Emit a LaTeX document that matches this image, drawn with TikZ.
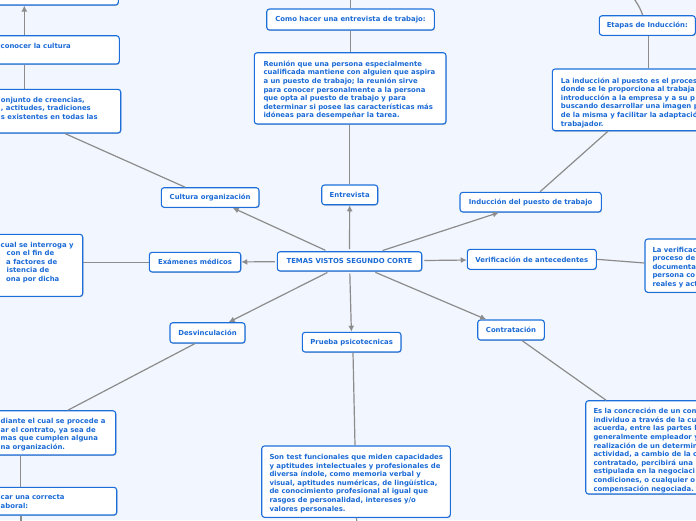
\documentclass[tikz,border=0pt]{standalone}
\usepackage{fontspec}
\setmainfont{DejaVu Sans}
\usetikzlibrary{arrows.meta,shadows,fit}
\definecolor{bg}{HTML}{F2F6FE}
\definecolor{bblue}{HTML}{1C6FDB}
\definecolor{tblue}{HTML}{1A6AD6}
\definecolor{lgray}{HTML}{8C8C8C}
\tikzset{
 box/.style={draw=bblue, line width=1.1pt, fill=white, rounded corners=2.8pt, inner sep=0pt,
   font=\fontsize{6.9}{8.6}\selectfont\bfseries, text=tblue,
   drop shadow={shadow xshift=0.6pt, shadow yshift=-0.9pt, opacity=0.22, fill=black}},
 sbox/.style 2 args={box, minimum width=#1, minimum height=#2},
 txt/.style={inner sep=0pt, anchor=north west, align=left, font=\fontsize{6.9}{8.6}\selectfont\bfseries, text=tblue},
 link/.style={draw=lgray, line width=1.2pt},
 arr/.style={link, -{Latex[length=6pt,width=6pt]}, shorten <=2pt},
}
\begin{document}
\begin{tikzpicture}[x=1pt,y=-1pt]
\useasboundingbox (0,0) rectangle (696,520);
\fill[bg] (0,0) rectangle (696,520);
\begin{scope}
\clip (0,0) rectangle (696,520);
% single-line boxes
\node[sbox={144.4pt}{19.3pt}] (center) at (349.5,261.35) {TEMAS VISTOS SEGUNDO CORTE};
\node[sbox={97.7pt}{19.6pt}] (Cultura) at (210.15,197.5) {Cultura organización};
\node[sbox={56pt}{19.7pt}] (Entrevista) at (349.7,194.85) {Entrevista};
\node[sbox={141.3pt}{19.7pt}] (Induccion) at (530.65,202.15) {Inducción del puesto de trabajo};
\node[sbox={91.4pt}{19.7pt}] (Examenes) at (195,262.15) {Exámenes médicos};
\node[sbox={129pt}{20pt}] (Verificacion) at (531.8,259.3) {Verificación de antecedentes};
\node[sbox={75pt}{20.3pt}] (Desvinc) at (207.5,332.85) {Desvinculación};
\node[sbox={98.7pt}{19.7pt}] (Prueba) at (351.65,342.15) {Prueba psicotecnicas};
\node[sbox={66.6pt}{20pt}] (Contratacion) at (511,330) {Contratación};
\node[sbox={167.6pt}{21pt}] (Como) at (350.5,19.5) {Como hacer una entrevista de trabajo:};
\node[sbox={96pt}{19.6pt}] (Etapas) at (647.3,25.5) {Etapas de Inducción:};

% multi-line boxes
\node[box, fit={(254.3,52.7) (446,124)}] (Reunion) {};
\node[txt] (ReunionT) at (263.3,60.6) {Reunión que una persona especialmente\\cualificada mantiene con alguien que aspira\\a un puesto de trabajo; la reunión sirve\\para conocer personalmente a la persona\\que opta al puesto de trabajo y para\\determinar si posee las características más\\idóneas para desempeñar la tarea.};

\node[box, fit={(552.3,69) (730,130.7)}] (LaInd) {};
\node[txt] (LaIndT) at (560.7,77.3) {La inducción al puesto es el proces\\donde se le proporciona al trabaja\\introducción a la empresa y a su p\\buscando desarrollar una imagen p\\de la misma y facilitar la adaptació\\trabajador.};

\node[box, fit={(645,239) (730,292.3)}] (Verif) {};
\node[txt] (VerifT) at (652.3,246.6) {La verificac\\proceso de\\documenta\\persona co\\reales y act};

\node[box, fit={(585.7,400.7) (730,494)}] (Contr) {};
\node[txt] (ContrT) at (593.3,408) {Es la concreción de un con\\individuo a través de la cu\\acuerda, entre las partes l\\generalmente empleador y\\realización de un determin\\actividad, a cambio de la c\\contratado, percibirá una\\estipulada en la negociaci\\condiciones, o cualquier o\\compensación negociada.};

\node[box, fit={(261.7,446) (450.3,517.3)}] (PruebaB) {};
\node[txt] (PruebaT) at (269.3,454) {Son test funcionales que miden capacidades\\y aptitudes intelectuales y profesionales de\\diversa índole, como memoria verbal y\\visual, aptitudes numéricas, de lingüística,\\de conocimiento profesional al igual que\\rasgos de personalidad, intereses y/o\\valores personales.};

\node[box, fit={(-30,-30) (118.3,5)}] (TopL) {};
\node[box, fit={(-30,35.7) (119.3,64)}] (Conocer) {};
\node[txt] (ConocerT) at (0.5,43.3) {conocer la cultura};
\node[box, fit={(-30,89.3) (120.7,133)}] (Conjunto) {};
\node[txt] (ConjuntoT) at (0.7,96.6) {onjunto de creencias,\\, actitudes, tradiciones\\s existentes en todas las};

\node[box, fit={(-30,234.3) (82.7,296.3)}] (Cual) {};
\node[txt] (CualT) at (0.5,241.6) {cual se interroga y\\\hspace*{6pt}con el fin de\\\hspace*{5.5pt}a factores de\\\hspace*{6pt}istencia de\\\hspace*{5.5pt}ona por dicha};

\node[box, fit={(-30,410.7) (115.7,455)}] (Desv) {};
\node[txt] (DesvT) at (0.5,418) {diante el cual se procede a\\ar el contrato, ya sea de\\mas que cumplen alguna\\na organización.};

\node[box, fit={(-30,487.3) (116.7,515)}] (BotL) {};
\node[txt] (BotLT) at (0.5,494.8) {car una correcta\\aboral:};

% off-canvas ends
\coordinate (comoTop) at (350.5,-5);
\coordinate (etapTop) at (633,-3);
\coordinate (botLEnd) at (21,525);
\coordinate (pruebaEnd) at (357,525);

% arrows from center
\draw[arr] (center) -- (Cultura);
\draw[arr] (center) -- (Entrevista);
\draw[arr] (center) -- (Induccion);
\draw[arr] (center) -- (Examenes);
\draw[arr] (center) -- (Verificacion);
\draw[arr] (center) -- (Desvinc);
\draw[arr] (center) -- (Prueba);
\draw[arr] (center) -- (Contratacion);

% secondary links
\draw[link] (Entrevista.north) -- (Entrevista.north |- Reunion.south);
\draw[link] (Reunion.north -| Como.south) -- (Como.south);
\draw[link] (Como.north) -- (comoTop);
\draw[link] (608,0 |- LaInd.south) -- (540,0 |- Induccion.north);
\draw[link] (648.3,0 |- LaInd.north) -- (648.3,0 |- Etapas.south);
\draw[link] (642.7,0 |- Etapas.north) .. controls (640,8) .. (etapTop);
\draw[link] (185,0 |- Cultura.north) -- (65,0 |- Conjunto.south);
\draw[link] (24.3,0 |- Conjunto.north) -- (24.3,0 |- Conocer.south);
\draw[link, -{Latex[length=6pt,width=6pt]}] (24.3,0 |- Conocer.north) -- (24.3,0 |- TopL.south);
\draw[link] (Examenes.west) -- (Examenes.west -| Cual.east);
\draw[link] (Verificacion.east) -- (Verif.west |- 0,263);
\draw[link] (195,0 |- Desvinc.south) -- (68,0 |- Desv.north);
\draw[link] (20.7,0 |- Desv.south) -- (20.7,0 |- BotL.north);
\draw[link] (21,0 |- BotL.south) -- (botLEnd);
\draw[link] (353,0 |- Prueba.south) -- (355,0 |- PruebaB.north);
\draw[link] (356.5,0 |- PruebaB.south) -- (pruebaEnd);
\draw[link] (522,0 |- Contratacion.south) -- (606,0 |- Contr.north);
\end{scope}
\end{tikzpicture}
\end{document}
